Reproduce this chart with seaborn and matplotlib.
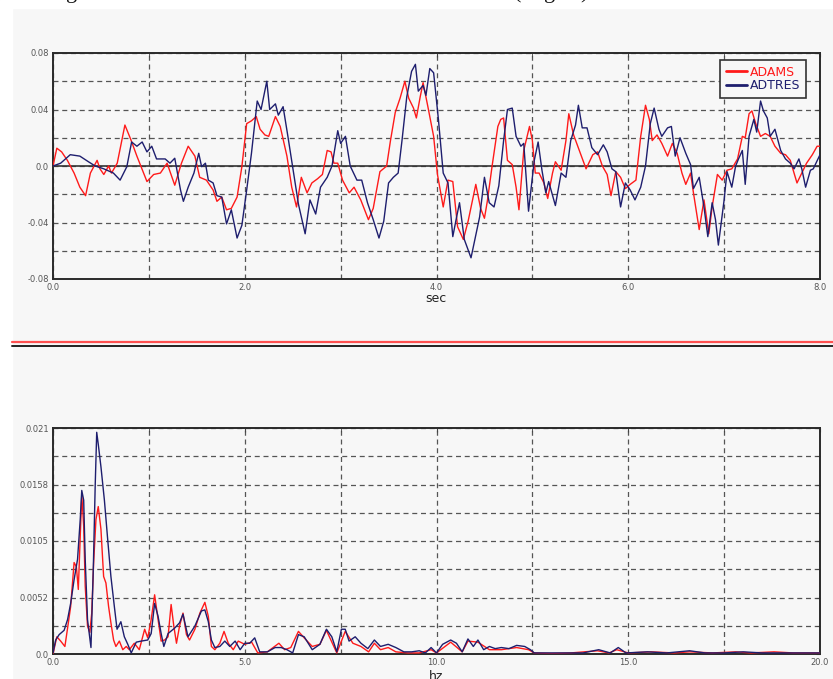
import numpy as np
import pandas as pd
import seaborn as sns
import matplotlib
matplotlib.use("Agg")
import matplotlib.pyplot as plt
from matplotlib.lines import Line2D
from matplotlib.patches import Rectangle
from matplotlib.ticker import FixedLocator

# ---------------- data ----------------
series_names = ["ADAMS", "ADTRES"]

adams_t = [0, 0.04, 0.09, 0.15, 0.22, 0.28, 0.34, 0.39, 0.46, 0.49, 0.53, 0.58, 0.61, 0.67, 0.72, 0.75,
           0.81, 0.875, 0.98, 1.05, 1.12, 1.19, 1.27, 1.34, 1.41, 1.48, 1.53, 1.60, 1.67, 1.71, 1.76, 1.81,
           1.86, 1.92, 1.97, 2.02, 2.07, 2.12, 2.16, 2.21, 2.25, 2.32, 2.37, 2.44, 2.49, 2.54, 2.59, 2.65,
           2.70, 2.76, 2.81, 2.86, 2.90, 2.93, 2.97, 3.02, 3.09, 3.14, 3.21, 3.29, 3.34, 3.41, 3.48, 3.52,
           3.57, 3.62, 3.67, 3.71, 3.76, 3.79, 3.83, 3.86, 3.91, 3.97, 4.01, 4.07, 4.12, 4.17, 4.22, 4.28,
           4.33, 4.41, 4.46, 4.50, 4.53, 4.58, 4.64, 4.67, 4.70, 4.74, 4.79, 4.83, 4.86, 4.91, 4.97, 5.00,
           5.03, 5.07, 5.12, 5.16, 5.21, 5.24, 5.30, 5.35, 5.38, 5.43, 5.49, 5.56, 5.63, 5.68, 5.73, 5.78,
           5.82, 5.87, 5.92, 5.97, 6.02, 6.08, 6.13, 6.18, 6.22, 6.25, 6.30, 6.35, 6.41, 6.46, 6.51, 6.56,
           6.60, 6.65, 6.68, 6.74, 6.79, 6.84, 6.875, 6.93, 6.98, 7.03, 7.08, 7.14, 7.19, 7.22, 7.26, 7.29,
           7.33, 7.38, 7.43, 7.48, 7.53, 7.59, 7.64, 7.69, 7.76, 7.81, 7.86, 7.92, 7.97, 8.0]
adams_v = [0, 0.0126, 0.010, 0.004, -0.005, -0.015, -0.021, -0.005, 0.004, -0.002, -0.006, 0, -0.005, 0.002,
           0.019, 0.029, 0.019, 0.007, -0.011, -0.006, -0.005, 0.002, -0.0136, 0.002, 0.014, 0.007, -0.008,
           -0.010, -0.017, -0.025, -0.022, -0.031, -0.030, -0.022, -0.0005, 0.030, 0.032, 0.035, 0.026, 0.022,
           0.021, 0.035, 0.028, 0.007, -0.015, -0.029, -0.008, -0.019, -0.012, -0.009, -0.006, 0.011, 0.010,
           0.002, 0.002, -0.010, -0.019, -0.015, -0.024, -0.038, -0.030, -0.004, 0, 0.018, 0.038, 0.048, 0.060,
           0.048, 0.041, 0.034, 0.049, 0.059, 0.042, 0.021, -0.006, -0.029, -0.010, -0.011, -0.043, -0.052,
           -0.039, -0.013, -0.030, -0.037, -0.025, 0.0, 0.028, 0.033, 0.034, 0.004, 0.001, -0.015, -0.031,
           0.011, 0.028, 0.018, -0.005, -0.005, -0.012, -0.023, -0.005, 0.003, -0.003, 0.018, 0.037, 0.022,
           0.011, -0.002, 0.008, 0.010, 0, -0.006, -0.021, -0.004, -0.008, -0.016, -0.013, -0.010, 0.021,
           0.043, 0.033, 0.018, 0.022, 0.016, 0.007, 0.016, 0.009, -0.005, -0.013, -0.005, -0.019, -0.045,
           -0.024, -0.048, -0.029, -0.006, -0.010, -0.003, -0.002, 0.005, 0.021, 0.020, 0.037, 0.039, 0.030,
           0.021, 0.023, 0.021, 0.014, 0.009, 0.008, 0.004, -0.012, -0.005, 0.002, 0.008, 0.014, 0.014]

adtres_t = [0, 0.08, 0.18, 0.28, 0.37, 0.44, 0.53, 0.63, 0.70, 0.77, 0.82, 0.875, 0.93, 0.98, 1.03, 1.08,
            1.17, 1.22, 1.27, 1.33, 1.36, 1.41, 1.47, 1.52, 1.55, 1.59, 1.62, 1.67, 1.71, 1.76, 1.81, 1.86,
            1.92, 1.97, 2.02, 2.07, 2.13, 2.17, 2.23, 2.26, 2.32, 2.35, 2.40, 2.45, 2.51, 2.56, 2.63, 2.68,
            2.74, 2.79, 2.86, 2.91, 2.97, 3.00, 3.05, 3.10, 3.17, 3.22, 3.28, 3.34, 3.40, 3.45, 3.50, 3.55,
            3.60, 3.64, 3.69, 3.74, 3.78, 3.81, 3.86, 3.89, 3.93, 3.97, 4.02, 4.07, 4.12, 4.17, 4.21, 4.24,
            4.29, 4.36, 4.40, 4.45, 4.50, 4.55, 4.60, 4.65, 4.70, 4.74, 4.79, 4.83, 4.88, 4.91, 4.96, 5.02,
            5.06, 5.10, 5.14, 5.17, 5.24, 5.30, 5.35, 5.40, 5.45, 5.48, 5.52, 5.57, 5.62, 5.68, 5.74, 5.78,
            5.83, 5.87, 5.92, 5.97, 6.02, 6.07, 6.13, 6.18, 6.23, 6.27, 6.32, 6.35, 6.41, 6.45, 6.49, 6.54,
            6.60, 6.65, 6.68, 6.74, 6.79, 6.83, 6.875, 6.91, 6.94, 7.00, 7.03, 7.08, 7.12, 7.15, 7.19, 7.22,
            7.26, 7.31, 7.34, 7.38, 7.41, 7.45, 7.48, 7.53, 7.59, 7.64, 7.69, 7.73, 7.78, 7.81, 7.85, 7.90,
            7.93, 8.0]
adtres_v = [0, 0.002, 0.008, 0.007, 0.003, 0, -0.002, -0.005, -0.010, -0.0005, 0.017, 0.014, 0.017, 0.010,
            0.014, 0.005, 0.005, 0.002, 0.0055, -0.017, -0.025, -0.015, -0.005, 0.009, -0.0005, 0.002, -0.010,
            -0.012, -0.021, -0.022, -0.041, -0.031, -0.051, -0.042, -0.017, 0.009, 0.046, 0.040, 0.060, 0.040,
            0.044, 0.036, 0.042, 0.021, -0.005, -0.027, -0.048, -0.024, -0.034, -0.015, -0.008, 0, 0.025,
            0.016, 0.021, 0, -0.010, -0.010, -0.026, -0.038, -0.051, -0.039, -0.012, -0.008, -0.005, 0.018,
            0.049, 0.067, 0.072, 0.053, 0.057, 0.050, 0.069, 0.066, 0.033, -0.005, -0.012, -0.050, -0.036,
            -0.026, -0.052, -0.065, -0.052, -0.036, -0.008, -0.026, -0.029, -0.014, 0.018, 0.040, 0.041, 0.021,
            0.014, 0.016, -0.032, 0.004, 0.017, -0.003, -0.019, -0.011, -0.028, -0.005, -0.008, 0.018, 0.029,
            0.043, 0.027, 0.027, 0.013, 0.008, 0.015, 0.010, -0.002, -0.004, -0.029, -0.012, -0.017, -0.024,
            -0.015, 0, 0.030, 0.041, 0.026, 0.021, 0.027, 0.028, 0.007, 0.020, 0.009, 0.001, -0.016, -0.008,
            -0.029, -0.050, -0.026, -0.038, -0.056, -0.024, -0.004, -0.015, 0, 0.005, 0.011, -0.013, 0.021,
            0.033, 0.024, 0.046, 0.039, 0.034, 0.021, 0.026, 0.011, 0.005, 0.002, -0.002, 0.005, -0.002,
            -0.015, -0.003, -0.002, 0.008]

adams_f = [0, 0.10, 0.20, 0.31, 0.38, 0.46, 0.55, 0.61, 0.66, 0.71, 0.75, 0.80, 0.84, 0.90, 0.96, 1.01,
           1.06, 1.12, 1.18, 1.25, 1.32, 1.38, 1.45, 1.51, 1.58, 1.64, 1.73, 1.82, 1.91, 1.99, 2.12, 2.25,
           2.39, 2.47, 2.56, 2.65, 2.74, 2.82, 2.91, 3.00, 3.08, 3.15, 3.22, 3.30, 3.39, 3.48, 3.56, 3.70,
           3.83, 3.96, 4.05, 4.13, 4.22, 4.35, 4.46, 4.57, 4.70, 4.83, 5.0, 5.18, 5.34, 5.59, 5.89, 6.04,
           6.20, 6.40, 6.55, 6.76, 6.96, 7.13, 7.40, 7.62, 7.82, 8.03, 8.23, 8.38, 8.54, 8.74, 8.94, 9.25,
           9.55, 9.86, 10.0, 10.37, 10.67, 10.82, 11.08, 11.38, 11.69, 12.09, 12.40, 12.55, 13.0, 13.5, 14.2,
           14.5, 14.7, 15.0, 15.6, 16.2, 16.6, 17.2, 17.8, 18.2, 18.8, 19.3, 20.0]
adams_a = [0, 0.0016, 0.0012, 0.0007, 0.0024, 0.0044, 0.0085, 0.0081, 0.0060, 0.0109, 0.0148, 0.0119,
           0.0063, 0.0026, 0.0020, 0.0038, 0.0085, 0.0125, 0.0137, 0.0116, 0.0072, 0.0066, 0.0044, 0.0029,
           0.0013, 0.0007, 0.0012, 0.0004, 0.0007, 0.0004, 0.0010, 0.0004, 0.0023, 0.0015, 0.0032, 0.0055,
           0.0032, 0.0012, 0.0013, 0.0016, 0.0046, 0.0026, 0.0010, 0.0026, 0.0038, 0.0018, 0.0013, 0.0023,
           0.0038, 0.0048, 0.0035, 0.0007, 0.0004, 0.0010, 0.0021, 0.0010, 0.0004, 0.0012, 0.0009, 0.0011,
           0.0001, 0.0002, 0.0010, 0.0004, 0.0006, 0.0021, 0.0015, 0.0007, 0.0009, 0.0022, 0.0001, 0.0021,
           0.0010, 0.0007, 0.0002, 0.0010, 0.0004, 0.0006, 0.0002, 0.0001, 0.0001, 0.0004, 0.0001, 0.0011,
           0.0002, 0.0012, 0.0011, 0.0004, 0.0004, 0.0006, 0.0004, 0.0001, 0.00005, 0.0001, 0.0003, 0.0001,
           0.0004, 0.0001, 0.0002, 0.0001, 0.0002, 0.0001, 0.0002, 0.0001, 0.0002, 0.0001, 0.0001]

adtres_f = [0, 0.07, 0.16, 0.29, 0.38, 0.46, 0.55, 0.64, 0.71, 0.75, 0.80, 0.84, 0.90, 0.99, 1.05, 1.10,
            1.14, 1.18, 1.25, 1.34, 1.42, 1.51, 1.60, 1.67, 1.77, 1.86, 1.95, 2.04, 2.17, 2.30, 2.47, 2.56,
            2.65, 2.74, 2.82, 2.89, 3.00, 3.17, 3.30, 3.39, 3.52, 3.70, 3.87, 3.96, 4.05, 4.13, 4.22, 4.35,
            4.48, 4.61, 4.75, 4.88, 5.0, 5.13, 5.26, 5.39, 5.59, 5.79, 5.95, 6.10, 6.25, 6.40, 6.55, 6.76,
            6.96, 7.13, 7.27, 7.40, 7.52, 7.62, 7.72, 7.88, 8.03, 8.21, 8.38, 8.54, 8.74, 8.94, 9.15, 9.35,
            9.55, 9.71, 9.86, 10.0, 10.16, 10.37, 10.52, 10.67, 10.82, 10.96, 11.08, 11.23, 11.38, 11.53,
            11.69, 11.89, 12.09, 12.30, 12.45, 12.55, 12.80, 13.11, 13.52, 13.82, 14.23, 14.53, 14.74, 14.94,
            15.5, 16.0, 16.6, 17.0, 17.5, 18.0, 18.5, 19.0, 19.5, 20.0]
adtres_a = [0.0001, 0.0013, 0.0018, 0.0022, 0.0032, 0.0047, 0.0069, 0.0088, 0.0125, 0.0152, 0.0143, 0.0088,
            0.0032, 0.0006, 0.0078, 0.0156, 0.0206, 0.0195, 0.0174, 0.0143, 0.0109, 0.0072, 0.0044, 0.0023,
            0.0030, 0.0016, 0.0009, 0.0001, 0.0011, 0.0012, 0.0013, 0.0019, 0.0047, 0.0035, 0.0019, 0.0007,
            0.0019, 0.0024, 0.0029, 0.0037, 0.0016, 0.0026, 0.0040, 0.0041, 0.0030, 0.0013, 0.0006, 0.0007,
            0.0012, 0.0007, 0.0012, 0.0004, 0.0010, 0.0010, 0.0015, 0.0002, 0.0002, 0.0006, 0.0006, 0.0004,
            0.0001, 0.0018, 0.0016, 0.0004, 0.0009, 0.0023, 0.0016, 0.0002, 0.0023, 0.0023, 0.0012, 0.0016,
            0.0010, 0.0005, 0.0013, 0.0007, 0.0009, 0.0006, 0.0002, 0.0002, 0.0003, 0.0001, 0.0006, 0.0001,
            0.0009, 0.0013, 0.0010, 0.0002, 0.0014, 0.0007, 0.0013, 0.0004, 0.0007, 0.0005, 0.0006, 0.0005,
            0.0008, 0.0007, 0.0004, 0.0001, 0.0001, 0.0001, 0.0001, 0.0001, 0.0004, 0.0001, 0.0006, 0.0001,
            0.0002, 0.0001, 0.0003, 0.0001, 0.0001, 0.0002, 0.0001, 0.0001, 0.0001, 0.0001]

time_xticks = [0, 2, 4, 6, 8]
time_xlabels = ["0.0", "2.0", "4.0", "6.0", "8.0"]
time_yticks = [-0.08, -0.04, 0.0, 0.04, 0.08]
time_ylabels = ["-0.08", "-0.04", "0.0", "0.04", "0.08"]
freq_xticks = [0, 5, 10, 15, 20]
freq_xlabels = ["0.0", "5.0", "10.0", "15.0", "20.0"]
freq_yticks = [0.0, 0.00525, 0.0105, 0.01575, 0.021]
freq_ylabels = ["0.0", "0.0052", "0.0105", "0.0158", "0.021"]

# ---------------- style ----------------
sns.set_style("white")
plt.rcParams["font.family"] = ["DejaVu Sans"]

RED = "#ff1a1a"
NAVY = "#1e1e6e"
BG = "#f7f7f7"
W, H = 833, 679

fig = plt.figure(figsize=(W / 100, H / 100), dpi=100, facecolor=BG)
# white strips (screenshot margins)
fig.add_artist(Rectangle((0, 1 - 8 / H), 1, 8 / H, transform=fig.transFigure, color="white", zorder=0))
fig.add_artist(Rectangle((0, 0), 12 / W, 1, transform=fig.transFigure, color="white", zorder=0))


def ax_rect(l, t, r, b):
    return [l / W, 1 - b / H, (r - l) / W, (b - t) / H]


ax1 = fig.add_axes(ax_rect(53, 53, 820, 279))
ax2 = fig.add_axes(ax_rect(53, 428, 820, 654))

df_time = pd.concat([
    pd.DataFrame({"t": adams_t, "v": adams_v, "s": series_names[0]}),
    pd.DataFrame({"t": adtres_t, "v": adtres_v, "s": series_names[1]}),
])
df_freq = pd.concat([
    pd.DataFrame({"f": adams_f, "a": adams_a, "s": series_names[0]}),
    pd.DataFrame({"f": adtres_f, "a": adtres_a, "s": series_names[1]}),
])
pal = {series_names[0]: RED, series_names[1]: NAVY}

sns.lineplot(data=df_time, x="t", y="v", hue="s", palette=pal, estimator=None, sort=False,
             linewidth=1.0, ax=ax1, legend=False, zorder=3)
sns.lineplot(data=df_freq, x="f", y="a", hue="s", palette=pal, estimator=None, sort=False,
             linewidth=1.0, ax=ax2, legend=False, zorder=3)


def style(ax, xlim, ylim, xt, xl, yt, yl, xminor, yminor):
    ax.set_facecolor(BG)
    ax.set_xlim(*xlim)
    ax.set_ylim(*ylim)
    ax.set_xticks(xt)
    ax.set_xticklabels(xl)
    ax.set_yticks(yt)
    ax.set_yticklabels(yl)
    ax.xaxis.set_minor_locator(FixedLocator(xminor))
    ax.yaxis.set_minor_locator(FixedLocator(yminor))
    ax.grid(True, which="both", color="#555555", linestyle=(0, (4, 3)), linewidth=0.9, zorder=1)
    ax.set_axisbelow(True)
    for s in ax.spines.values():
        s.set_color("#2a2a2a")
        s.set_linewidth(1.4)
    ax.tick_params(which="both", direction="in", top=True, right=True, length=3,
                   color="#444444", labelsize=6, labelcolor="#555555", pad=3)
    ax.set_xlabel("")
    ax.set_ylabel("")


style(ax1, (0, 8), (-0.08, 0.08), time_xticks, time_xlabels, time_yticks, time_ylabels,
      [1, 3, 5, 7], [-0.06, -0.02, 0.02, 0.06])
ax1.axhline(0, color="#333333", linewidth=1.2, zorder=2)
style(ax2, (0, 20), (0, 0.021), freq_xticks, freq_xlabels, freq_yticks, freq_ylabels,
      [2.5, 7.5, 12.5, 17.5], [0.002625, 0.007875, 0.013125, 0.018375])

# legend
handles = [Line2D([], [], color=RED, lw=2), Line2D([], [], color=NAVY, lw=2)]
leg = ax1.legend(handles, series_names, loc="upper right", bbox_to_anchor=(0.982, 0.969),
                 frameon=True, fancybox=False, framealpha=1, facecolor=BG, edgecolor="#333333",
                 fontsize=9, handlelength=1.7, handletextpad=0.25, labelspacing=0.05,
                 borderpad=0.45, borderaxespad=0)
leg.get_frame().set_linewidth(1.2)
for txt, c in zip(leg.get_texts(), [RED, NAVY]):
    txt.set_color(c)

# axis titles
fig.text(436 / W, 1 - 299 / H, "sec", ha="center", va="center", fontsize=9, color="#222222")
fig.text(436 / W, 1 - 676 / H, "hz", ha="center", va="center", fontsize=9, color="#222222")

# separator lines
fig.add_artist(Line2D([12 / W, 1], [1 - 342 / H] * 2, color="#ff5050", lw=1.6, transform=fig.transFigure))
fig.add_artist(Line2D([12 / W, 1], [1 - 345.5 / H] * 2, color="#222222", lw=1.4, transform=fig.transFigure))

# cut-off caption from the page above
for x, s in [(72, "g"), (518, "("), (550, "g"), (584, ")")]:
    fig.text(x / W, 1 + 2 / H, s, ha="center", va="baseline", fontsize=16,
             family="Liberation Serif", color="#111111")

fig.savefig("out.png", dpi=100, facecolor=BG)
